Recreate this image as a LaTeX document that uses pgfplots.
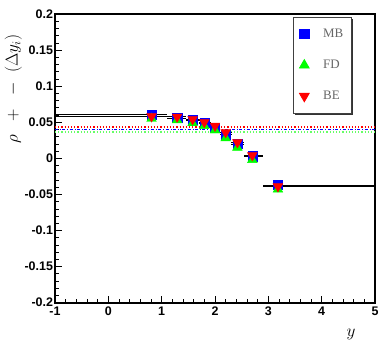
\documentclass[border=0pt]{standalone}
\usepackage{pgfplots}
\pgfplotsset{compat=1.18}
\usepackage{fontspec}
\setmainfont{Liberation Serif}
\setsansfont{Liberation Sans}
\usetikzlibrary{shadows}

\begin{document}
\begin{tikzpicture}
\useasboundingbox (-55bp,-51.3bp) rectangle (337bp,302.7bp);
\begin{axis}[
    at={(0,0)}, anchor=south west,
    scale only axis,
    width=320bp, height=288.7bp,
    xmin=-1, xmax=5, ymin=-0.2, ymax=0.2,
    axis line style={line width=1.8bp},
    xtick={-1,0,...,5},
    minor x tick num=4,
    ytick={-0.2,-0.15,...,0.2},
    yticklabels={-0.2,-0.15,-0.1,-0.05,0,0.05,0.1,0.15,0.2},
    xticklabels={-1,0,1,2,3,4,5},
    minor y tick num=4,
    tick align=inside,
    xtick pos=bottom, ytick pos=left,
    major tick length=7bp, minor tick length=4bp,
    tick style={black, line width=0.7bp},
    ticklabel style={font=\sffamily\bfseries\fontsize{12.5}{13}\selectfont},
    yticklabel style={xshift=1.5bp},
    xticklabel style={yshift=-1bp},
    xlabel={$y$},
    xlabel style={at={(axis description cs:0.925,-0.11)}, anchor=center, font=\fontsize{18}{19}\selectfont},
    ylabel={$\rho\;\;+\;\;-\;\;(\Delta y_i)$},
    ylabel style={at={(axis description cs:-0.13,0.74)}, anchor=center, rotate=0, font=\fontsize{17}{18}\selectfont},
    legend style={at={(axis description cs:0.744,0.99)}, anchor=north west,
        draw=black!75, line width=0.8bp, fill=white,
        drop shadow={shadow xshift=1.5bp, shadow yshift=-1.5bp, fill=black!80, opacity=1},
        font=\fontsize{13}{14}\selectfont\color{black!60},
        row sep=17bp, inner xsep=6bp, inner ysep=10bp,
        legend cell align=left},
    legend image code/.code={\draw[#1] plot coordinates {(0.2cm,0cm)};},
    clip=true,
]
% reference levels
\addplot[red, dotted, line width=1.2bp, forget plot] coordinates {(-1,0.0435) (5,0.0435)};
\addplot[blue, dash dot, line width=1.2bp, forget plot] coordinates {(-1,0.0405) (5,0.0405)};
\addplot[green!60!white, dotted, line width=1.2bp, forget plot] coordinates {(-1,0.0365) (5,0.0365)};

% MB
\addplot[only marks, mark=square*, mark size=4.6bp, mark options={blue, fill=blue},
    error bars/.cd, x dir=both, x explicit,
    error bar style={black, line width=0.8bp}, error mark=none]
    coordinates {
(0.81,0.061) += (0.29,0) -= (1.81,0)
(1.29,0.056) += (0.16,0) -= (0.19,0)
(1.58,0.053) += (0.14,0) -= (0.13,0)
(1.80,0.049) += (0.12,0) -= (0.10,0)
(2.00,0.043) += (0.10,0) -= (0.10,0)
(2.20,0.033) += (0.12,0) -= (0.10,0)
(2.42,0.020) += (0.13,0) -= (0.12,0)
(2.70,0.003) += (0.20,0) -= (0.15,0)
(3.18,-0.037) += (1.82,0) -= (0.28,0)
    };
\addlegendentry{\hspace{12bp}MB}

% FD
\addplot[only marks, mark=triangle*, mark size=5.6bp, mark options={green, fill=green}]
    coordinates {
(0.81,0.055) (1.29,0.053) (1.58,0.049) (1.80,0.045) (2.00,0.039)
(2.20,0.028) (2.42,0.015) (2.70,-0.002) (3.18,-0.043)
    };
\addlegendentry{\hspace{12bp}FD}

% BE
\addplot[only marks, mark=triangle*, mark size=5.6bp, mark options={red, fill=red, rotate=180},
    error bars/.cd, x dir=both, x explicit,
    error bar style={black, line width=0.8bp}, error mark=none]
    coordinates {
(0.81,0.058) += (0.29,0) -= (1.81,0)
(1.29,0.0575) += (0.16,0) -= (0.19,0)
(1.58,0.054) += (0.14,0) -= (0.13,0)
(1.80,0.050) += (0.12,0) -= (0.10,0)
(2.00,0.045) += (0.10,0) -= (0.10,0)
(2.20,0.036) += (0.12,0) -= (0.10,0)
(2.42,0.022) += (0.13,0) -= (0.12,0)
(2.70,0.004) += (0.20,0) -= (0.15,0)
(3.18,-0.039) += (1.82,0) -= (0.28,0)
    };
\addlegendentry{\hspace{12bp}BE}
\end{axis}
\end{tikzpicture}
\end{document}
